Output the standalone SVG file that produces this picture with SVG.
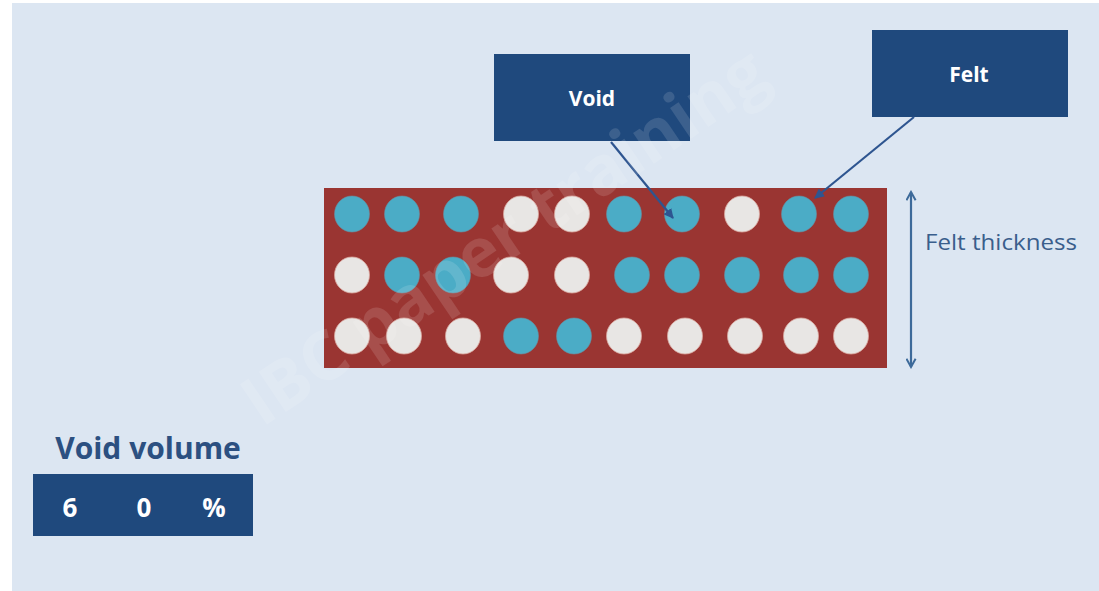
<svg xmlns="http://www.w3.org/2000/svg" width="1099" height="591" viewBox="0 0 1099 591">
<defs>
<style>
.box{fill:#1f497d}
.bt{font-family:"Open Sans","Liberation Sans",sans-serif;font-weight:bold;fill:#ffffff;text-anchor:middle}
.b{fill:#4bacc6;stroke:#6a8fa0;stroke-width:0.6}
.w{fill:#e8e6e4;stroke:#d9a8a0;stroke-width:0.8}
.conn{stroke:#2e5590;stroke-width:2.2;fill:none}
</style>
<marker id="ah" viewBox="0 0 10 10" refX="9" refY="5" markerWidth="4.5" markerHeight="4.5" orient="auto-start-reverse">
<path d="M0,0 L10,5 L0,10 z" fill="#2e5590"/>
</marker>
<marker id="ch" viewBox="0 0 12 12" refX="10" refY="6" markerWidth="5" markerHeight="5" orient="auto-start-reverse">
<path d="M1,1 L10,6 L1,11" fill="none" stroke="#3d6a9a" stroke-width="2.2"/>
</marker>
</defs>
<rect width="1099" height="591" fill="#ffffff"/>
<rect x="12" y="3" width="1087" height="588" fill="#dce6f2"/>
<g id="felt">
<rect x="324" y="188" width="563" height="180" fill="#9a3532"/>
<g id="row1">
<ellipse class="b" cx="352" cy="214" rx="17.5" ry="18"/>
<ellipse class="b" cx="402" cy="214" rx="17.5" ry="18"/>
<ellipse class="b" cx="461" cy="214" rx="17.5" ry="18"/>
<ellipse class="w" cx="521" cy="214" rx="17.5" ry="18"/>
<ellipse class="w" cx="572" cy="214" rx="17.5" ry="18"/>
<ellipse class="b" cx="624" cy="214" rx="17.5" ry="18"/>
<ellipse class="b" cx="682" cy="214" rx="17.5" ry="18"/>
<ellipse class="w" cx="742" cy="214" rx="17.5" ry="18"/>
<ellipse class="b" cx="799" cy="214" rx="17.5" ry="18"/>
<ellipse class="b" cx="851" cy="214" rx="17.5" ry="18"/>
</g>
<g id="row2">
<ellipse class="w" cx="352" cy="275" rx="17.5" ry="18"/>
<ellipse class="b" cx="402" cy="275" rx="17.5" ry="18"/>
<ellipse class="b" cx="453" cy="275" rx="17.5" ry="18"/>
<ellipse class="w" cx="511" cy="275" rx="17.5" ry="18"/>
<ellipse class="w" cx="572" cy="275" rx="17.5" ry="18"/>
<ellipse class="b" cx="632" cy="275" rx="17.5" ry="18"/>
<ellipse class="b" cx="682" cy="275" rx="17.5" ry="18"/>
<ellipse class="b" cx="742" cy="275" rx="17.5" ry="18"/>
<ellipse class="b" cx="801" cy="275" rx="17.5" ry="18"/>
<ellipse class="b" cx="851" cy="275" rx="17.5" ry="18"/>
</g>
<g id="row3">
<ellipse class="w" cx="352" cy="336" rx="17.5" ry="18"/>
<ellipse class="w" cx="404" cy="336" rx="17.5" ry="18"/>
<ellipse class="w" cx="463" cy="336" rx="17.5" ry="18"/>
<ellipse class="b" cx="521" cy="336" rx="17.5" ry="18"/>
<ellipse class="b" cx="574" cy="336" rx="17.5" ry="18"/>
<ellipse class="w" cx="624" cy="336" rx="17.5" ry="18"/>
<ellipse class="w" cx="685" cy="336" rx="17.5" ry="18"/>
<ellipse class="w" cx="745" cy="336" rx="17.5" ry="18"/>
<ellipse class="w" cx="801" cy="336" rx="17.5" ry="18"/>
<ellipse class="w" cx="851" cy="336" rx="17.5" ry="18"/>
</g>
</g>
<g id="void-label">
<rect class="box" x="494" y="54" width="196" height="87"/>
<text class="bt" x="592" y="106" font-size="21">Void</text>
</g>
<g id="felt-label">
<rect class="box" x="872" y="30" width="196" height="87"/>
<text class="bt" x="969" y="82" font-size="21">Felt</text>
</g>
<g id="connectors">
<line class="conn" x1="611" y1="142" x2="673" y2="218" marker-end="url(#ah)"/>
<line class="conn" x1="914" y1="117" x2="815" y2="198" marker-end="url(#ah)"/>
<line x1="911" y1="192" x2="911" y2="367" stroke="#3d6a9a" stroke-width="2.2" marker-start="url(#ch)" marker-end="url(#ch)"/>
</g>
<g id="thickness-label">
<text x="925" y="250" font-family="Open Sans,Liberation Sans,sans-serif" font-size="22" fill="#3a5e8c" textLength="152" lengthAdjust="spacingAndGlyphs">Felt thickness</text>
</g>
<g id="void-volume">
<text x="148" y="459" font-family="Open Sans,Liberation Sans,sans-serif" font-weight="bold" font-size="30" fill="#2c5081" text-anchor="middle">Void volume</text>
<rect class="box" x="33" y="474" width="220" height="62"/>
<text class="bt" x="70" y="517" font-size="26">6</text>
<text class="bt" x="144" y="517" font-size="26">0</text>
<text class="bt" x="214" y="517" font-size="26">%</text>
</g>
<text x="0" y="0" transform="translate(262,428) rotate(-34)" font-family="Open Sans,Liberation Sans,sans-serif" font-weight="bold" font-size="68" fill="#ffffff" fill-opacity="0.13">IBC paper training</text>
</svg>
